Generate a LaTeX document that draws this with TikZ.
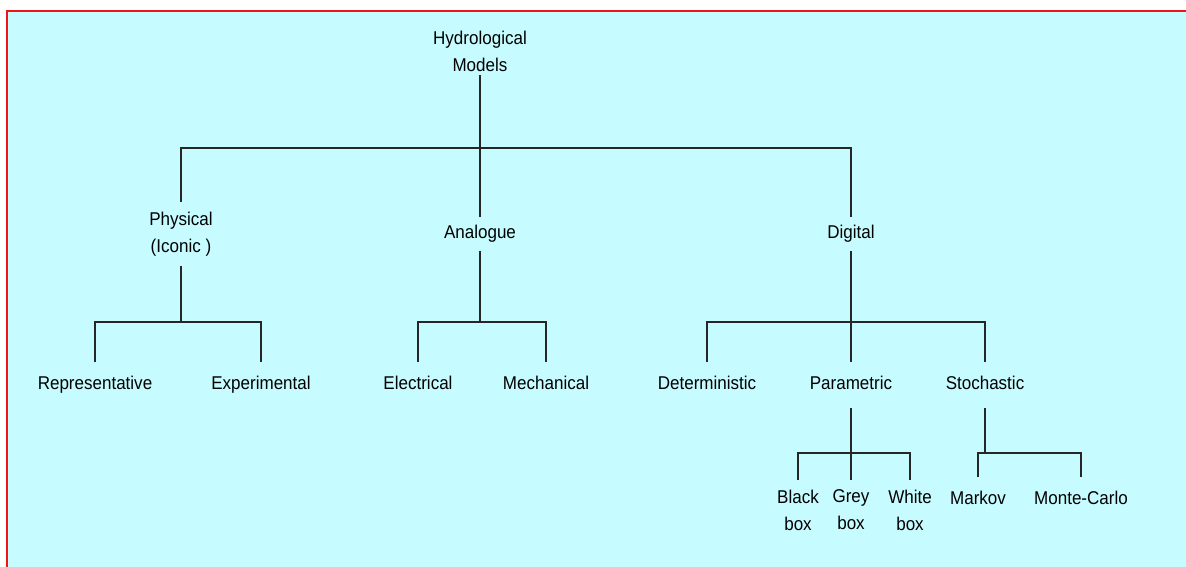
\documentclass[tikz,border=0pt]{standalone}
\usepackage{fontspec}
\setmainfont[FakeStretch=0.92]{Liberation Sans}
\definecolor{sheet}{RGB}{198,252,255}
\definecolor{frame}{RGB}{240,20,20}

\begin{document}
\begin{tikzpicture}[
  x=1pt, y=-1pt,
  lbl/.style={font=\fontsize{18.5}{27}\selectfont, align=center, inner xsep=2pt},
  word/.style={lbl, text height=13.5pt, text depth=3.9pt},
  leaf/.style={word, inner ysep=14pt},
  midlbl/.style={word, inner ysep=8pt},
  pair/.style={lbl, inner ysep=10pt},
  ln/.style={line width=1.3pt, black!85}]
\useasboundingbox (0,0) rectangle (1186,567);
\fill[white] (0,0) rectangle (1186,567);
\fill[sheet] (7,12) rectangle (1186,567);
\draw[frame, line width=2pt] (7,567) -- (7,11) -- (1186,11);
\coordinate (bus1) at (0,148);
\coordinate (bus2) at (0,322);
\coordinate (bus3) at (0,453);
\node[pair, inner ysep=4pt] (root) at (480,51) {Hydrological\\Models};
\node[pair] (phys) at (181,234) {Physical\\(Iconic )};
\node[midlbl] (ana) at (480,234) {Analogue};
\node[midlbl] (dig) at (851,234) {Digital};
\node[leaf] (rep) at (95,385) {Representative};
\node[leaf] (expm) at (261,385) {Experimental};
\node[leaf] (elec) at (418,385) {Electrical};
\node[leaf] (mech) at (546,385) {Mechanical};
\node[leaf] (det) at (707,385) {Deterministic};
\node[leaf] (par) at (851,385) {Parametric};
\node[leaf] (sto) at (985,385) {Stochastic};
\node[pair] (black) at (798,510) {Black\\box};
\node[pair] (grey) at (851,510) {Grey\\box};
\node[pair] (white) at (910,510) {White\\box};
\node[leaf] (markov) at (978,500) {Markov};
\node[leaf] (monte) at (1081,500) {Monte-Carlo};
\draw[ln] (root) -- (ana);
\draw[ln] (phys.north) -- (phys |- bus1) -| (dig.north);
\draw[ln] (phys) -- (phys |- bus2);
\draw[ln] (rep.north) -- (rep |- bus2) -| (expm.north);
\draw[ln] (ana) -- (ana |- bus2);
\draw[ln] (elec.north) -- (elec |- bus2) -| (mech.north);
\draw[ln] (dig) -- (par);
\draw[ln] (det.north) -- (det |- bus2) -| (sto.north);
\draw[ln] (par) -- (grey);
\draw[ln] (black.north) -- (black |- bus3) -| (white.north);
\draw[ln] (sto) -- (sto |- bus3);
\draw[ln] (markov.north) -- (markov |- bus3) -| (monte.north);
\end{tikzpicture}
\end{document}
